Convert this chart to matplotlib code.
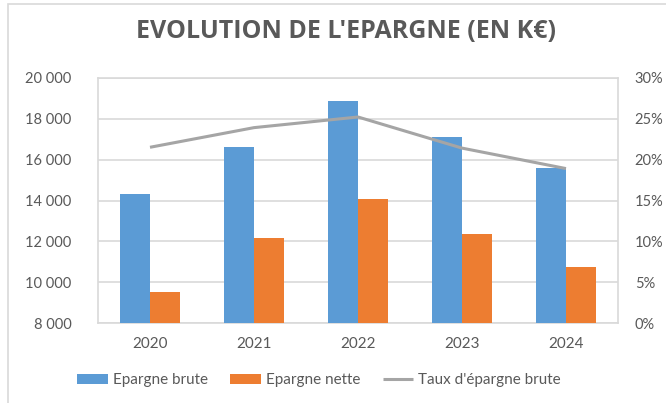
import numpy as np
import matplotlib.pyplot as plt
from matplotlib.ticker import FuncFormatter
from matplotlib.patches import Rectangle

years = ['2020', '2021', '2022', '2023', '2024']
epargne_brute = [14330, 16620, 18840, 17125, 15570]
epargne_nette = [9550, 12160, 14090, 12340, 10760]
taux_brute = [21.5, 23.9, 25.2, 21.4, 18.9]

BLUE = '#5b9bd5'
ORANGE = '#ed7d31'
GREY_LINE = '#a5a5a5'
TEXT = '#595959'
GRID = '#d9d9d9'

plt.rcParams['font.family'] = ['Lato', 'DejaVu Sans']

fig = plt.figure(figsize=(6.66, 4.03), dpi=100)
# outer chart border (only left/top visible in the reference)
fig.patches.append(Rectangle((8 / 666, -0.1), 1.2, 1 - 4 / 403 + 0.1, transform=fig.transFigure,
                             fill=False, edgecolor=GRID, linewidth=1.2))

ax = fig.add_axes([98 / 666, 1 - 323.3 / 403, 520 / 666, 245.6 / 403])
x = np.arange(len(years))
w = 0.285
ax.bar(x - w / 2, epargne_brute, w, color=BLUE, label='Epargne brute', zorder=3)
ax.bar(x + w / 2, epargne_nette, w, color=ORANGE, label='Epargne nette', zorder=3)
ax.set_xlim(-0.5, len(years) - 0.5)
ax.set_ylim(8000, 20000)
ax.set_yticks(range(8000, 20001, 2000))
ax.yaxis.set_major_formatter(FuncFormatter(lambda v, p: f'{int(v):,}'.replace(',', ' ')))
ax.set_xticks(x)
ax.set_xticklabels(years)
ax.grid(axis='y', color=GRID, linewidth=1.2, zorder=0)
ax.set_axisbelow(True)
for s in ax.spines.values():
    s.set_color(GRID)
    s.set_linewidth(1.2)
ax.tick_params(axis='y', length=0, pad=19, labelsize=10.5, labelcolor=TEXT)
ax.tick_params(axis='x', length=0, pad=10, labelsize=11, labelcolor=TEXT)

ax2 = ax.twinx()
ln, = ax2.plot(x, taux_brute, color=GREY_LINE, linewidth=2.2, label="Taux d'épargne brute",
               solid_capstyle='butt', zorder=4)
ax2.set_ylim(0, 30)
ax2.set_yticks(range(0, 31, 5))
ax2.yaxis.set_major_formatter(FuncFormatter(lambda v, p: f'{int(v)}%'))
ax2.tick_params(axis='y', length=0, pad=12, labelsize=10.5, labelcolor=TEXT)
for s in ax2.spines.values():
    s.set_visible(False)

fig.text(346 / 666, 1 - 31 / 403, "EVOLUTION DE L'EPARGNE (EN K€)", ha='center', va='center',
         fontsize=18, fontweight='bold', color=TEXT, family=['Open Sans', 'DejaVu Sans'])

h1, l1 = ax.get_legend_handles_labels()
fig.legend(h1 + [ln], l1 + [ln.get_label()], loc='center', bbox_to_anchor=(319 / 666, 1 - 380 / 403),
           ncol=3, frameon=False, fontsize=11, labelcolor=TEXT, handlelength=2.0,
           handleheight=0.65, handletextpad=0.3, columnspacing=1.5)

fig.savefig('out.png', dpi=100)
